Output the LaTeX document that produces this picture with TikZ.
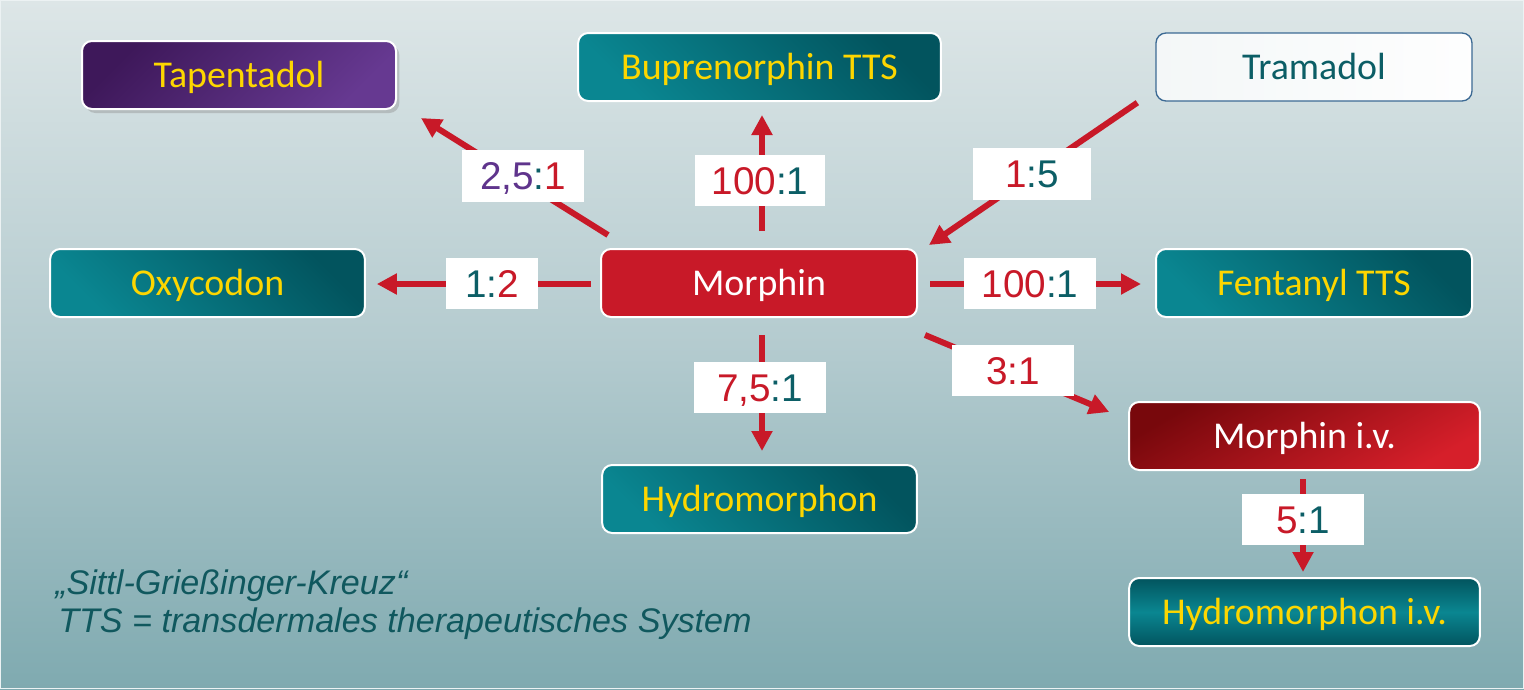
\documentclass[tikz,border=0pt]{standalone}
\usepackage{fontspec}
\setmainfont{Carlito}
\newfontfamily\arialf{Liberation Sans}
\usetikzlibrary{arrows.meta,calc,shadows}
\definecolor{bgtop}{RGB}{221,230,231}
\definecolor{bgmid}{RGB}{180,203,207}
\definecolor{bgbot}{RGB}{127,170,176}
\definecolor{myred}{RGB}{200,25,40}
\definecolor{tealL}{RGB}{10,134,145}
\definecolor{tealD}{RGB}{2,84,94}
\definecolor{tealt}{RGB}{12,94,102}
\definecolor{notec}{RGB}{16,88,94}
\definecolor{yel}{RGB}{253,214,0}
\definecolor{purD}{RGB}{62,24,90}
\definecolor{purL}{RGB}{102,57,145}
\definecolor{purt}{RGB}{95,52,140}
\definecolor{redD}{RGB}{120,8,12}
\definecolor{redL}{RGB}{214,31,42}
\definecolor{tramb}{RGB}{60,106,148}
\begin{document}
\begin{tikzpicture}[x=0.75pt,y=-0.75pt,
  box/.style={rounded corners=7.5pt, draw=white, line width=1.5pt, inner sep=0pt,
    minimum height=51pt, text height=18.3pt, text depth=0pt,
    font=\fontsize{28.4}{32}\selectfont},
  tealbox/.style={box, text=yel, top color=tealD, bottom color=tealL, shading angle=-45},
  lab/.style={fill=white, inner sep=0pt, minimum height=38.5pt,
    text height=20.8pt, text depth=0pt,
    font=\arialf\fontsize{29}{33}\selectfont},
  arr/.style={draw=myred, line width=4.5pt, -{Triangle[length=15pt,width=15pt]}},
  note/.style={anchor=base west, inner sep=0pt, text=notec,
    font=\arialf\itshape\fontsize{25.6}{30}\selectfont}
]
\useasboundingbox (0,0) rectangle (1524,689);
\shade[top color=bgtop, bottom color=bgbot, middle color=bgmid] (0,0) rectangle (1524,689);
\draw[white!85!bgbot, line width=1pt] (0.5,0.5) rectangle (1523.5,688.5);

% boxes
\node[box, text=yel, minimum width=235.5pt, top color=purD, bottom color=purL, shading angle=45,
  drop shadow={shadow xshift=2.5pt, shadow yshift=-3pt, opacity=0.35}] (tap) at (239,75) {Tapentadol};
\node[tealbox, minimum width=272pt] (bup) at (759.5,67) {Buprenorphin TTS};
\node[box, draw=tramb, line width=1pt, text=tealt, minimum width=237pt,
  left color=white!85!bgmid, right color=white!96!bgtop] (tram) at (1314,67) {Tramadol};
\node[tealbox, minimum width=236pt] (oxy) at (207.5,283) {Oxycodon};
\node[box, fill=myred, text=white, minimum width=237pt] (mor) at (759,283) {Morphin};
\node[tealbox, minimum width=237pt] (fen) at (1314,283) {Fentanyl TTS};
\node[tealbox, minimum width=236pt] (hyd) at (759.5,499) {Hydromorphon};
\node[box, text=white, minimum width=263pt, top color=redD, bottom color=redL, shading angle=30] (miv) at (1304.5,436) {Morphin i.v.};
\node[box, text=yel, minimum width=263pt, top color=tealD, bottom color=tealD, middle color=tealL] (hiv) at (1304.5,612) {Hydromorphon i.v.};

% arrows
\draw[arr] ($(mor.north west)+(8,-13)$) -- ($(tap.south east)+(24,8)$);
\draw[arr] ($(mor.north)+(3,-17)$) -- ($(bup.south)+(2.5,13)$);
\draw[arr] ($(tram.south west)+(-18,1)$) -- ($(mor.north east)+(11,-3)$);
\draw[arr] ($(mor.west)+(-9,1)$) -- ($(oxy.east)+(11,1)$);
\draw[arr] ($(mor.east)+(12,1)$) -- ($(fen.west)+(-14,1)$);
\draw[arr] ($(mor.south east)+(7,17)$) -- ($(miv.north west)+(-19,11)$);
\draw[arr] ($(mor.south)+(3,17)$) -- ($(hyd.north)+(2.5,-13)$);
\draw[arr] ($(miv.south)+(-1.5,8)$) -- ($(hiv.north)+(-1.5,-5)$);

% labels
\node[lab, minimum width=91.5pt] (l25) at (523,176) {{\color{purt}2,5}{\color{tealt}:}{\color{myred}1}};
\node[lab, minimum width=97.5pt] (l100u) at (760,180.5) {{\color{myred}100}{\color{tealt}:1}};
\node[lab, minimum width=89pt] (l15) at (1032,174) {{\color{myred}1}{\color{tealt}:5}};
\node[lab, minimum width=69pt] (l12) at (492,283.5) {{\color{tealt}1:}{\color{myred}2}};
\node[lab, minimum width=99pt] (l100r) at (1030,283.5) {{\color{myred}100}{\color{tealt}:1}};
\node[lab, minimum width=91.5pt] (l31) at (1013,370.5) {{\color{myred}3:1}};
\node[lab, minimum width=99pt] (l75) at (760,387.5) {{\color{myred}7,5}{\color{tealt}:1}};
\node[lab, minimum width=91.5pt] (l51) at (1303,519.5) {{\color{myred}5}{\color{tealt}:1}};

% notes
\node[note] (n1) at (55,594) {„Sittl-Grießinger-Kreuz“};
\node[note] (n2) at (58,632) {TTS = transdermales therapeutisches System};
\end{tikzpicture}
\end{document}
